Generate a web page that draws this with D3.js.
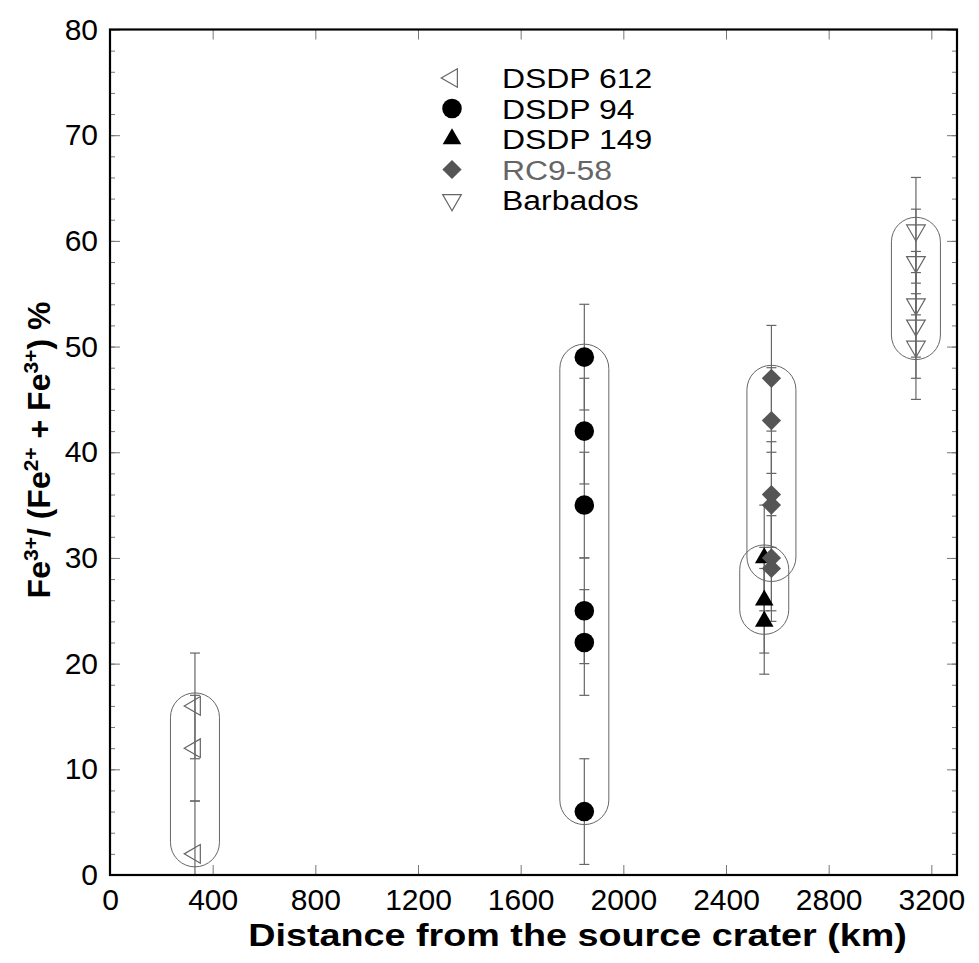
<!DOCTYPE html>
<html>
<head>
    <meta charset="utf-8">
    <title>Fe3+ ratio vs distance</title>
    <script src="https://d3js.org/d3.v7.min.js"></script>
    <style>
        body { margin: 0; background: #fff; }
        text { font-family: "Liberation Sans", Arial, Helvetica, sans-serif; }
    </style>
</head>
<body>
    <svg width="979" height="963" id="mainSvg"></svg>
    <script>
        // data (distance km, Fe3+ ratio %)
        const seriesNames = ["DSDP 612", "DSDP 94", "DSDP 149", "RC9-58", "Barbados"];
        const distances = [331, 1848, 2549, 2577, 3140];
        const dsdp612 = [16, 12, 2];
        const dsdp94 = [49, 42, 35, 25, 22, 6];
        const dsdp149 = [30, 26, 24];
        const rc958 = [47, 43, 36, 35, 30, 29];
        const barbados = [61, 58, 54, 52, 50];
        const errorPct = 5;
        const xTicks = [0, 400, 800, 1200, 1600, 2000, 2400, 2800, 3200];
        const yTicks = [0, 10, 20, 30, 40, 50, 60, 70, 80];

        const seriesValues = [dsdp612, dsdp94, dsdp149, rc958, barbados];

        const svg = d3.select('#mainSvg');
        const margin = { top: 29.5, right: 22, bottom: 88, left: 110 };
        const width = +svg.attr("width");
        const height = +svg.attr("height");
        const innerWidth = width - margin.left - margin.right;
        const innerHeight = height - margin.top - margin.bottom;

        const g = svg.append("g")
            .attr("transform", `translate(${margin.left}, ${margin.top})`);

        const xScale = d3.scaleLinear().domain([0, 3300]).range([0, innerWidth]);
        const yScale = d3.scaleLinear().domain([0, 80]).range([innerHeight, 0]);

        const grey = "#666";
        const markers = [
            { type: d3.symbolTriangle, size: 150, rotate: -90, fill: "none", stroke: grey },
            { type: d3.symbolCircle, size: 300, rotate: 0, fill: "#000", stroke: "none" },
            { type: d3.symbolTriangle, size: 150, rotate: 0, fill: "#000", stroke: "none" },
            { type: d3.symbolSquare, size: 185, rotate: 45, fill: "#555", stroke: "none" },
            { type: d3.symbolTriangle, size: 150, rotate: 180, fill: "none", stroke: grey }
        ];

        const tickFont = 30;

        // axes: minor ticks
        const yMinor = d3.range(0, 81, 2);
        g.append("g").call(d3.axisLeft(yScale).tickValues(yMinor).tickSize(-5).tickFormat(""));
        g.append("g").attr("transform", `translate(${innerWidth},0)`)
            .call(d3.axisRight(yScale).tickValues(yMinor).tickSize(-5).tickFormat(""));

        // axes: major ticks
        const yAxisG = g.append("g")
            .call(d3.axisLeft(yScale).tickValues(yTicks).tickSizeInner(-10).tickSizeOuter(0).tickPadding(12));
        g.append("g").attr("transform", `translate(${innerWidth},0)`)
            .call(d3.axisRight(yScale).tickValues(yTicks).tickSizeInner(-10).tickSizeOuter(0).tickFormat(""));
        const xAxisG = g.append("g").attr("transform", `translate(0,${innerHeight})`)
            .call(d3.axisBottom(xScale).tickValues(xTicks).tickFormat(d3.format("d"))
                .tickSizeInner(-10).tickSizeOuter(0).tickPadding(14));
        g.append("g")
            .call(d3.axisTop(xScale).tickValues(xTicks).tickSizeInner(-10).tickSizeOuter(0).tickFormat(""));

        g.selectAll(".domain").remove();
        g.selectAll(".tick line").attr("stroke", "#777").attr("stroke-width", 1);
        yAxisG.selectAll("text").attr("font-size", tickFont).attr("fill", "#000").attr("font-family", null);
        xAxisG.selectAll("text").attr("font-size", tickFont).attr("fill", "#000").attr("font-family", null);

        // group outlines (capsules)
        const capPad = 13;
        const capWidth = 49;
        g.append("g").selectAll("rect")
            .data(seriesValues.map((vals, i) => ({ x: distances[i], lo: d3.min(vals), hi: d3.max(vals) })))
            .join("rect")
            .attr("x", d => xScale(d.x) - capWidth / 2)
            .attr("y", d => yScale(d.hi) - capPad)
            .attr("width", capWidth)
            .attr("height", d => yScale(d.lo) - yScale(d.hi) + 2 * capPad)
            .attr("rx", capWidth / 2)
            .attr("fill", "none")
            .attr("stroke", grey)
            .attr("stroke-width", 1);

        // points
        const points = [];
        seriesValues.forEach((vals, i) => vals.forEach(v => points.push({ s: i, x: distances[i], y: v })));

        // error bars
        const errG = g.append("g").attr("stroke", grey).attr("stroke-width", 1.2);
        points.forEach(p => {
            const top = yScale(p.y + errorPct);
            const bot = yScale(Math.max(0, p.y - errorPct));
            const cx = xScale(p.x);
            errG.append("line").attr("x1", cx).attr("x2", cx).attr("y1", top).attr("y2", bot);
            errG.append("line").attr("x1", cx - 5).attr("x2", cx + 5).attr("y1", top).attr("y2", top);
            if (p.y - errorPct > 0) {
                errG.append("line").attr("x1", cx - 5).attr("x2", cx + 5).attr("y1", bot).attr("y2", bot);
            }
        });

        const drawMarker = (sel, m) => sel
            .attr("d", d3.symbol().type(m.type).size(m.size))
            .attr("fill", m.fill)
            .attr("stroke", m.stroke)
            .attr("stroke-width", 1.2);

        g.append("g").selectAll("path")
            .data(points)
            .join("path")
            .each(function (p) {
                const m = markers[p.s];
                drawMarker(d3.select(this), m)
                    .attr("transform", `translate(${xScale(p.x)},${yScale(p.y)}) rotate(${m.rotate})`);
            });

        // frame
        g.append("rect")
            .attr("width", innerWidth)
            .attr("height", innerHeight)
            .attr("fill", "none")
            .attr("stroke", "#000")
            .attr("stroke-width", 2.2);

        // legend
        const legend = svg.append("g").attr("transform", "translate(452, 78)");
        seriesNames.forEach((name, i) => {
            const row = legend.append("g").attr("transform", `translate(0, ${i * 30.5})`);
            const m = markers[i];
            drawMarker(row.append("path"), m).attr("transform", `rotate(${m.rotate})`);
            row.append("text")
                .attr("transform", "translate(50, 10) scale(1.14, 1)")
                .attr("font-size", 28)
                .attr("fill", i === 3 ? "#666" : "#000")
                .text(name);
        });

        // axis titles
        svg.append("text")
            .attr("transform", `translate(${margin.left + innerWidth / 2 + 44}, 946) scale(1.18, 1)`)
            .attr("text-anchor", "middle")
            .attr("font-size", 32)
            .attr("font-weight", "bold")
            .text("Distance from the source crater (km)");

        const yTitle = svg.append("text")
            .attr("transform", "translate(50, 450) rotate(-90)")
            .attr("text-anchor", "middle")
            .attr("font-size", 32)
            .attr("font-weight", "bold");
        const parts = [["Fe", false], ["3+", true], ["/ (Fe", false], ["2+", true], [" + Fe", false], ["3+", true], [") %", false]];
        parts.forEach(([t, sup], k) => {
            const ts = yTitle.append("tspan").text(t);
            if (sup) ts.attr("dy", -12).attr("font-size", 21);
            else if (k > 0) ts.attr("dy", 12);
        });
    </script>
</body>
</html>
